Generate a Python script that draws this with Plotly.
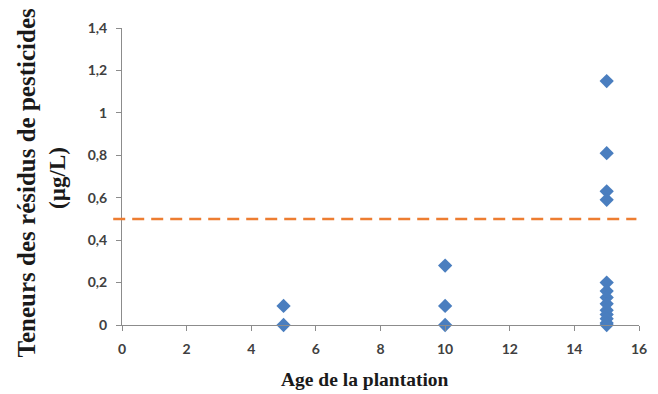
import plotly.graph_objects as go

# Data
age = [5, 5, 10, 10, 10, 15, 15, 15, 15, 15, 15, 15, 15, 15, 15, 15, 15, 15]
teneur = [0.09, 0.0, 0.28, 0.09, 0.0, 1.15, 0.81, 0.63, 0.59,
          0.20, 0.16, 0.13, 0.10, 0.07, 0.05, 0.03, 0.01, 0.0]
seuil = 0.5

x_ticks = [0, 2, 4, 6, 8, 10, 12, 14, 16]
y_ticks = [0, 0.2, 0.4, 0.6, 0.8, 1.0, 1.2, 1.4]

fig = go.Figure()
fig.add_trace(go.Scatter(
    x=age, y=teneur, mode="markers",
    marker=dict(symbol="diamond", size=11, color="#4A7EBF"),
    cliponaxis=False, showlegend=False,
))

fig.add_shape(type="line", xref="paper", yref="y",
              x0=-0.017, x1=0.995, y0=seuil, y1=seuil,
              line=dict(color="#ED7D31", width=2.5, dash="12px,7px"))

axis_common = dict(showline=True, linecolor="#8C8C8C", linewidth=1,
                   ticks="outside", ticklen=5, tickcolor="#8C8C8C",
                   showgrid=False, zeroline=False, ticklabelstandoff=6,
                   tickfont=dict(family="Lato", size=14, color="#404040",
                                 weight="bold"))

fig.update_xaxes(range=[0, 16], tickvals=x_ticks, **axis_common)
fig.update_yaxes(range=[0, 1.4], tickvals=y_ticks, **axis_common)

fig.add_annotation(text="<b>Teneurs des résidus de pesticides</b>",
                   xref="paper", yref="paper", x=-0.185, y=0.478,
                   xanchor="center", yanchor="middle",
                   textangle=-90, showarrow=False,
                   font=dict(family="Liberation Serif", size=25, color="#1a1a1a"))
fig.add_annotation(text="<b>(µg/L)</b>",
                   xref="paper", yref="paper", x=-0.124, y=0.495,
                   xanchor="center", yanchor="middle",
                   textangle=-90, showarrow=False,
                   font=dict(family="Liberation Serif", size=23, color="#1a1a1a"))
fig.add_annotation(text="<b>Age de la plantation</b>",
                   xref="paper", yref="paper", x=0.47, y=-0.185,
                   xanchor="center", yanchor="middle",
                   showarrow=False,
                   font=dict(family="Liberation Serif", size=19.5, color="#1a1a1a"))

fig.update_layout(
    width=658, height=394,
    margin=dict(l=122, r=11, t=28, b=69),
    plot_bgcolor="white", paper_bgcolor="white",
    separators=", ",
)

fig.write_html("out.html", config={"displayModeBar": False},
               post_script="document.body.style.margin='0';")
